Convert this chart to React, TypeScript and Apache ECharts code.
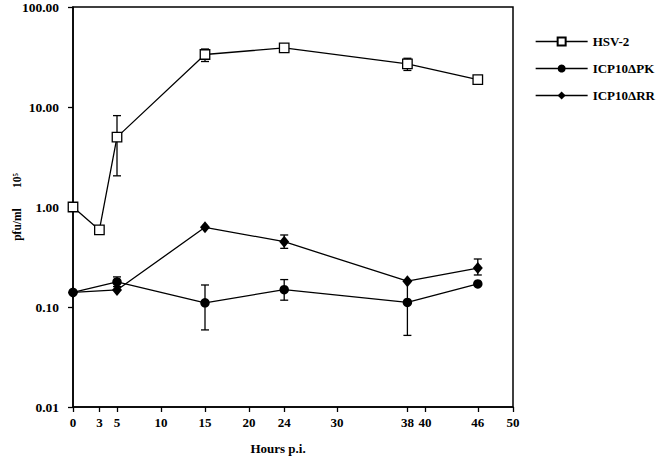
import React, { useEffect, useRef } from "react";
import * as echarts from "echarts";

const hsvHours = [0, 3, 5, 15, 24, 38, 46];
const hsvValues = [1.0, 0.59, 5.0, 33.5, 39, 27, 18.8];
const hsvErrLow = [null, null, 2.05, 28.5, 37, 23.2, null];
const hsvErrHigh = [null, null, 8.2, 38, 41.5, 30.7, null];

const mutHours = [0, 5, 15, 24, 38, 46];
const pkValues = [0.14, 0.178, 0.11, 0.149, 0.111, 0.17];
const pkErrLow = [null, 0.16, 0.059, 0.117, 0.052, null];
const pkErrHigh = [null, 0.2, 0.166, 0.188, 0.181, null];
const rrValues = [0.14, 0.148, 0.626, 0.45, 0.181, 0.245];
const rrErrLow = [null, null, null, 0.386, null, 0.209];
const rrErrHigh = [null, null, null, 0.525, null, 0.302];

const xTicks = [0, 3, 5, 10, 15, 20, 24, 30, 38, 40, 46, 50];
const seriesNames = ["HSV-2", "ICP10\u0394PK", "ICP10\u0394RR"];

const FONT = '"Liberation Serif", "Times New Roman", serif';

function pairs(xs: number[], ys: number[]) {
  return xs.map((x, i) => [x, ys[i]]);
}
function errData(xs: number[], lo: (number | null)[], hi: (number | null)[]) {
  const out: number[][] = [];
  xs.forEach((x, i) => {
    if (lo[i] != null && hi[i] != null) out.push([x, lo[i] as number, hi[i] as number]);
  });
  return out;
}

const errRender = (params: any, api: any) => {
  const x = api.value(0);
  const lo = api.value(1);
  const hi = api.value(2);
  const p1 = api.coord([x, lo]);
  const p2 = api.coord([x, hi]);
  const w = 4;
  const st = { stroke: "#000", lineWidth: 1.3 };
  return {
    type: "group",
    children: [
      { type: "line", shape: { x1: p1[0], y1: p1[1], x2: p2[0], y2: p2[1] }, style: st },
      { type: "line", shape: { x1: p1[0] - w, y1: p1[1], x2: p1[0] + w, y2: p1[1] }, style: st },
      { type: "line", shape: { x1: p2[0] - w, y1: p2[1], x2: p2[0] + w, y2: p2[1] }, style: st },
    ],
  };
};

export default function App() {
  const ref = useRef<HTMLDivElement>(null);
  useEffect(() => {
    if (!ref.current) return;
    const chart = echarts.init(ref.current, null, { renderer: "svg" });
    const lineStyle = { color: "#000", width: 1.3 };
    chart.setOption({
      animation: false,
      backgroundColor: "#fff",
      textStyle: { fontFamily: FONT },
      grid: {
        left: 73,
        right: 147,
        top: 7,
        bottom: 60,
        show: true,
        borderColor: "#000",
        borderWidth: 1.5,
        containLabel: false,
        outerBoundsMode: "none",
      },
      legend: {
        orient: "vertical",
        left: 530,
        top: 30,
        itemWidth: 52,
        itemHeight: 10,
        itemGap: 14,
        data: seriesNames,
        lineStyle: { width: 1.3 },
        textStyle: { fontFamily: FONT, fontWeight: "bold", fontSize: 13, color: "#000" },
      },
      xAxis: {
        type: "value",
        min: 0,
        max: 50,
        name: "Hours p.i.",
        nameLocation: "middle",
        nameGap: 35,
        nameMoveOverlap: false,
        nameTextStyle: {
          fontFamily: FONT,
          fontWeight: "bold",
          fontSize: 13,
          color: "#000",
          padding: [0, 30, 0, 0],
        },
        splitLine: { show: false },
        axisLine: { lineStyle: { color: "#000", width: 1.5 } },
        axisTick: { show: true, length: 5, lineStyle: { color: "#000", width: 1.3 }, customValues: xTicks },
        axisLabel: {
          customValues: xTicks,
          margin: 9,
          fontFamily: FONT,
          fontWeight: "bold",
          fontSize: 13,
          color: "#000",
        },
      },
      yAxis: {
        type: "log",
        logBase: 10,
        min: 0.01,
        max: 100,
        name: "pfu/ml       10\u2075",
        nameLocation: "middle",
        nameGap: 50,
        nameMoveOverlap: false,
        nameTextStyle: { fontFamily: FONT, fontWeight: "bold", fontSize: 11.5, color: "#000" },
        splitLine: { show: false },
        axisLine: { show: true, lineStyle: { color: "#000", width: 1.5 } },
        axisTick: { show: true, length: 5, lineStyle: { color: "#000", width: 1.3 } },
        axisLabel: {
          margin: 14,
          fontFamily: FONT,
          fontWeight: "bold",
          fontSize: 13.5,
          color: "#000",
          formatter: (v: number) => v.toFixed(2),
        },
      },
      series: [
        {
          type: "custom",
          name: "hsvErr",
          renderItem: errRender,
          data: errData(hsvHours, hsvErrLow, hsvErrHigh),
          encode: { x: 0, y: [1, 2] },
          z: 1,
        },
        {
          type: "custom",
          name: "pkErr",
          renderItem: errRender,
          data: errData(mutHours, pkErrLow, pkErrHigh),
          encode: { x: 0, y: [1, 2] },
          z: 1,
        },
        {
          type: "custom",
          name: "rrErr",
          renderItem: errRender,
          data: errData(mutHours, rrErrLow, rrErrHigh),
          encode: { x: 0, y: [1, 2] },
          z: 1,
        },
        {
          type: "line",
          name: seriesNames[0],
          data: pairs(hsvHours, hsvValues),
          symbol: "rect",
          symbolSize: 9.5,
          showAllSymbol: true,
          lineStyle,
          itemStyle: { color: "#fff", borderColor: "#000", borderWidth: 1.3 },
          z: 3,
        },
        {
          type: "line",
          name: seriesNames[1],
          data: pairs(mutHours, pkValues),
          symbol: "circle",
          symbolSize: 9.5,
          showAllSymbol: true,
          lineStyle,
          itemStyle: { color: "#000" },
          z: 3,
        },
        {
          type: "line",
          name: seriesNames[2],
          data: pairs(mutHours, rrValues),
          symbol: "diamond",
          symbolSize: [10, 12],
          showAllSymbol: true,
          lineStyle,
          itemStyle: { color: "#000" },
          z: 3,
        },
      ],
    });
    return () => chart.dispose();
  }, []);
  return <div ref={ref} style={{ width: 660, height: 467, position: "absolute", left: 0, top: 0 }} />;
}
